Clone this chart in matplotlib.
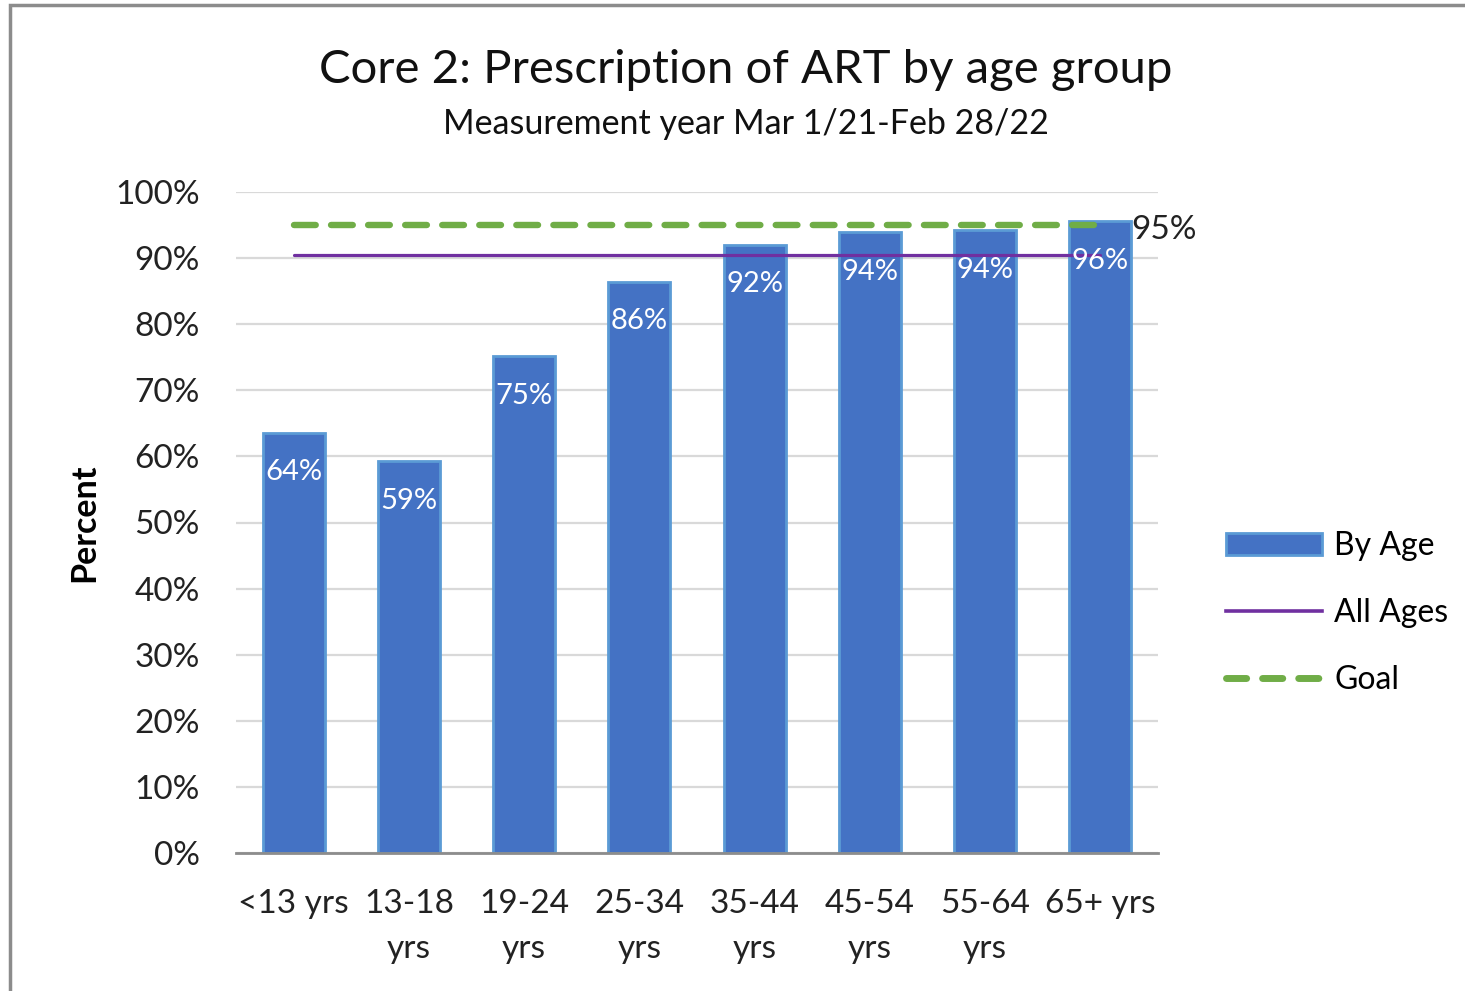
import matplotlib.pyplot as plt
from matplotlib.lines import Line2D
from matplotlib.patches import Patch, Rectangle

plt.rcParams['font.family'] = ['Lato', 'DejaVu Sans']

# data
age_groups = ['<13 yrs', '13-18\nyrs', '19-24\nyrs', '25-34\nyrs',
              '35-44\nyrs', '45-54\nyrs', '55-64\nyrs', '65+ yrs']
by_age = [63.6, 59.3, 75.2, 86.4, 92.0, 93.9, 94.2, 95.6]
all_ages = 90.5
goal = 95.0
y_ticks = [0, 10, 20, 30, 40, 50, 60, 70, 80, 90, 100]

fig = plt.figure(figsize=(14.65, 9.91), dpi=100)
ax = fig.add_axes([236 / 1465, 1 - 853 / 991, 922 / 1465, 661 / 991])

x = list(range(len(age_groups)))
bars = ax.bar(x, by_age, width=0.54, color='#4472C4', edgecolor='#5B9BD5',
              linewidth=2, zorder=2)
for b, v in zip(bars, by_age):
    ax.annotate(f'{v:.0f}%', (b.get_x() + b.get_width() / 2, v),
                xytext=(0, -28.5), textcoords='offset points',
                ha='center', va='center', color='white', fontsize=21, zorder=4)

ax.plot([x[0], x[-1]], [all_ages, all_ages], color='#7030A0', lw=2.3,
        solid_capstyle='round', zorder=3)
ax.plot([x[0], x[-1]], [goal, goal], color='#70AD47', lw=4.6,
        dashes=(3.4, 2.4), dash_capstyle='round', zorder=3)
ax.annotate(f'{goal:.0f}%', (x[-1], goal), xytext=(22, -3.5),
            textcoords='offset points', ha='left', va='center',
            fontsize=24, color='#222222')

ax.set_xlim(-0.5, len(age_groups) - 0.5)
ax.set_ylim(0, 100)
ax.set_yticks(y_ticks)
ax.set_yticklabels([f'{t}%' for t in y_ticks], fontsize=24, color='#222222')
ax.set_xticks(x)
ax.set_xticklabels(age_groups, fontsize=24, color='#222222', linespacing=1.62)
ax.tick_params(axis='both', length=0)
ax.tick_params(axis='y', pad=26)
ax.tick_params(axis='x', pad=26)
ax.grid(axis='y', color='#D9D9D9', lw=1.6, zorder=0)
ax.set_axisbelow(True)
for s in ['top', 'right', 'left']:
    ax.spines[s].set_visible(False)
ax.spines['bottom'].set_color('#8C8C8C')
ax.spines['bottom'].set_linewidth(2)
ax.spines['bottom'].set_zorder(5)

ax.set_ylabel('Percent', fontsize=24.5, fontweight='bold', labelpad=11)

fig.text(746 / 1465, 1 - 70 / 991, 'Core 2: Prescription of ART by age group',
         ha='center', va='center', fontsize=34, color='#111111')
fig.text(746 / 1465, 1 - 124 / 991, 'Measurement year Mar 1/21-Feb 28/22',
         ha='center', va='center', fontsize=24.5, color='#111111')

handles = [
    Patch(facecolor='#4472C4', edgecolor='#5B9BD5', linewidth=2, label='By Age'),
    Line2D([0], [0], color='#7030A0', lw=2.6, label='All Ages'),
    Line2D([0], [0], color='#70AD47', lw=5, dashes=(2.9, 2.3),
           dash_capstyle='round', label='Goal'),
]
fig.legend(handles=handles, loc='center left',
           bbox_to_anchor=(1197 / 1465, 1 - 613 / 991), frameon=False,
           fontsize=23, handlelength=3.0, handleheight=0.7,
           labelspacing=1.15, handletextpad=0.4)

# outer chart border
fig.patches.append(Rectangle((10 / 1465, -0.05), 1.2, 1 - 5 / 991 + 0.05,
                             transform=fig.transFigure, fill=False,
                             edgecolor='#8C8C8C', lw=2.5))

fig.savefig('out.png', dpi=100)
